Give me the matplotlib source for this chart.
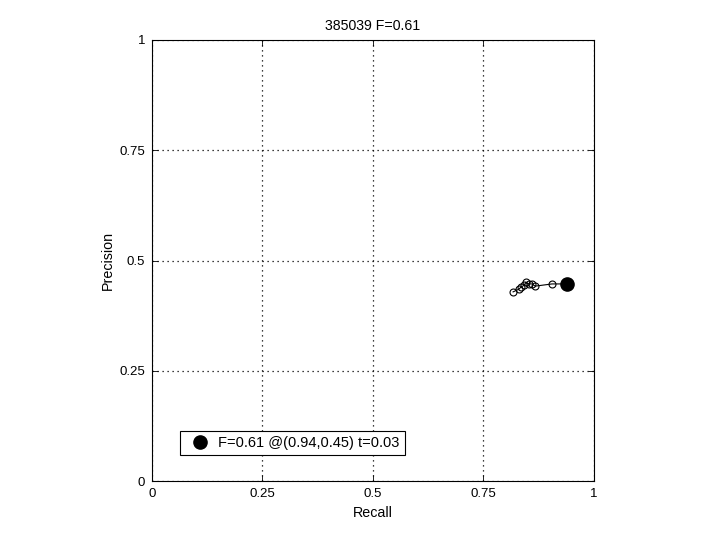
import matplotlib
matplotlib.use("Agg")
import matplotlib.pyplot as plt

# precision/recall curve points
recall = [0.817, 0.830, 0.835, 0.842, 0.846, 0.853, 0.860, 0.867, 0.905, 0.937]
precision = [0.429, 0.435, 0.440, 0.444, 0.451, 0.447, 0.447, 0.442, 0.447, 0.447]
best_r, best_p = 0.94, 0.447
ticks = [0, 0.25, 0.5, 0.75, 1]
tick_labels = ['0', '0.25', '0.5', '0.75', '1']

plt.rcParams['font.family'] = ['Liberation Sans', 'DejaVu Sans']
plt.rcParams['font.size'] = 9.5

fig = plt.figure(figsize=(7.2, 5.4), dpi=100)
ax = fig.add_axes([0.211, 0.109, 0.614, 0.817])

ax.plot(recall, precision, '-o', color='black', markerfacecolor='none',
        markersize=5, linewidth=0.8, markeredgewidth=0.8)
ax.plot([best_r], [best_p], 'o', color='black', markersize=9.5,
        label='F=0.61 @(0.94,0.45) t=0.03')

ax.set_xlim(0, 1)
ax.set_ylim(0, 1)
ax.set_xticks(ticks)
ax.set_xticklabels(tick_labels)
ax.set_yticks(ticks)
ax.set_yticklabels(tick_labels)
ax.tick_params(direction='in', length=4, width=0.6, top=True, right=True, pad=5)
ax.grid(True, linestyle=(0, (1, 3)), color='black', linewidth=0.9)
for s in ax.spines.values():
    s.set_linewidth(0.8)

ax.set_xlabel('Recall', fontsize=10.3, labelpad=4)
ax.set_ylabel('Precision', fontsize=10.3, labelpad=3)
ax.set_title('385039 F=0.61', fontsize=10.2, pad=7)

leg = ax.legend(loc='lower left', bbox_to_anchor=(0.063, 0.059), fancybox=False,
                edgecolor='black', framealpha=1, handlelength=2.1,
                handletextpad=0.2, borderpad=0.35, fontsize=10.5, borderaxespad=0)
leg.get_frame().set_linewidth(0.8)

fig.savefig('out.png', dpi=100)
